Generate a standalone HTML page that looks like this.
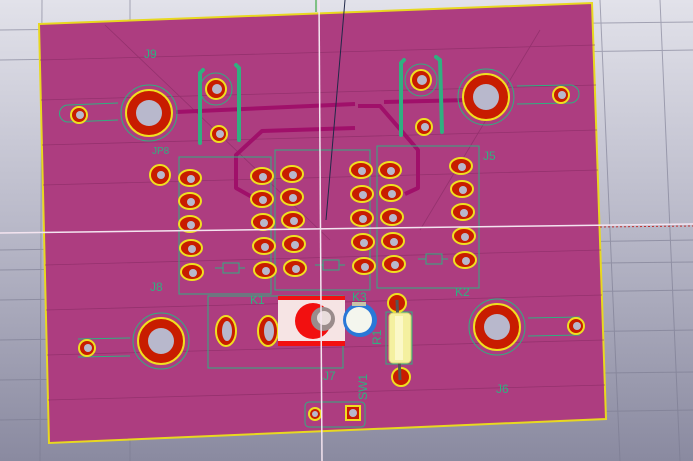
<!DOCTYPE html>
<html><head><style>
html,body{margin:0;padding:0;width:693px;height:461px;overflow:hidden;background:#c8c8d4}
</style></head><body>
<svg width="693" height="461" viewBox="0 0 693 461" xmlns="http://www.w3.org/2000/svg" font-family="Liberation Sans, sans-serif">
<defs>
<linearGradient id="bg" x1="0" y1="0" x2="0" y2="1">
<stop offset="0" stop-color="#e2e2ea"/><stop offset="0.5" stop-color="#b8b8c8"/><stop offset="1" stop-color="#8a8aa0"/>
</linearGradient>
</defs>
<rect width="693" height="461" fill="url(#bg)"/>
<g stroke="#7a7a90" stroke-width="1" opacity="0.6">
<line x1="0" y1="30" x2="693" y2="22"/><line x1="0" y1="60" x2="693" y2="50"/>
<line x1="0" y1="250" x2="693" y2="240"/><line x1="0" y1="270" x2="693" y2="262"/>
<line x1="0" y1="300" x2="693" y2="290"/><line x1="0" y1="340" x2="693" y2="330"/>
<line x1="0" y1="380" x2="693" y2="372"/><line x1="0" y1="420" x2="693" y2="410"/>
<line x1="42" y1="0" x2="40" y2="461"/><line x1="130" y1="0" x2="130" y2="461"/>
<line x1="600" y1="0" x2="620" y2="461"/><line x1="660" y1="0" x2="680" y2="461"/>
</g>
<polygon points="39,24 592,3 606,419 49,443" fill="#ad3d80" stroke="#e8d820" stroke-width="2"/>
<g stroke="#8a2c66" stroke-width="0.8" opacity="0.7">
<line x1="40" y1="60" x2="595" y2="45"/><line x1="41" y1="100" x2="596" y2="85"/>
<line x1="42" y1="145" x2="597" y2="130"/><line x1="43" y1="185" x2="598" y2="170"/>
<line x1="45" y1="265" x2="601" y2="250"/><line x1="46" y1="310" x2="602" y2="295"/>
<line x1="47" y1="355" x2="604" y2="340"/><line x1="48" y1="400" x2="605" y2="385"/>
<line x1="105" y1="25" x2="330" y2="240"/><line x1="540" y1="30" x2="420" y2="230"/>
</g>
<!-- traces -->
<g fill="none" stroke="#a0106a" stroke-width="4" stroke-linejoin="round">
<polyline points="176,112 355,104"/>
<polyline points="384,102 470,100"/>
<polyline points="355,128 262,131 236,155 236,188 252,197"/>
<polyline points="358,106 380,106 418,150 418,188 405,194"/>
</g>
<!-- silkscreen -->
<g fill="none" stroke="#30b080" stroke-width="1">
<rect x="179" y="157" width="92" height="137"/>
<rect x="275" y="150" width="95" height="140"/>
<rect x="377" y="146" width="102" height="142"/>
<rect x="208" y="296" width="135" height="72"/>
<rect x="305" y="402" width="60" height="25" rx="4"/>
<circle cx="149" cy="113" r="28"/><circle cx="486" cy="97" r="28"/>
<circle cx="161" cy="341" r="28"/><circle cx="497" cy="327" r="28"/>
<circle cx="216" cy="89" r="16"/><circle cx="421" cy="80" r="16"/>
<path d="M68,105 L118,103 M68,122 L118,120 M68,105 A8,8 0 0 0 68,122"/>
<path d="M517,86 L570,85 M517,104 L570,103 M570,85 A9,9 0 0 1 570,103"/>
<path d="M78,339 L130,338 M78,357 L130,356"/>
<path d="M528,318 L580,317 M528,336 L580,335"/>
<rect x="386" y="312" width="26" height="52"/>
<path d="M215,268 h8 v-5 h16 v10 h-16 v-5 M239,268 h6"/>
<path d="M315,265 h8 v-5 h16 v10 h-16 v-5 M339,265 h6"/>
<path d="M418,259 h8 v-5 h16 v10 h-16 v-5 M442,259 h6"/>
</g>
<g stroke="#30b080" stroke-width="4" stroke-linecap="round" fill="none">
<path d="M203,70 L200,73 L200,143"/><path d="M236,65 L239,68 L239,140"/>
<path d="M404,60 L401,63 L401,135"/><path d="M436,57 L440,60 L442,132"/>
</g>
<g fill="#30b080" font-size="12">
<text x="144" y="58">J9</text><text x="483" y="160">J5</text>
<text x="150" y="291">J8</text><text x="496" y="393">J6</text>
<text x="250" y="304">K1</text><text x="352" y="301">K3</text><text x="455" y="296">K2</text>
<text x="323" y="380">J7</text>
<text x="152" y="154" font-size="10">JP8</text>
<text transform="translate(381,345) rotate(-90)">R1</text>
<text transform="translate(367,400) rotate(-90)">SW1</text>
</g>
<!-- pads -->
<g stroke="#f0e020" stroke-width="2" fill="#c81c00">
<circle cx="149" cy="113" r="23"/><circle cx="486" cy="97" r="23"/>
<circle cx="161" cy="341" r="23"/><circle cx="497" cy="327" r="23"/>
<circle cx="79" cy="115" r="8"/><circle cx="561" cy="95" r="8"/>
<circle cx="87" cy="348" r="8"/><circle cx="576" cy="326" r="8"/>
<circle cx="216" cy="89" r="10"/><circle cx="219" cy="134" r="8"/>
<circle cx="421" cy="80" r="10"/><circle cx="424" cy="127" r="8"/>
<circle cx="160" cy="175" r="10"/>
<circle cx="315" cy="414" r="6"/><rect x="346" y="406" width="14" height="14"/>
<circle cx="397" cy="303" r="9"/><circle cx="401" cy="377" r="9"/>
<ellipse cx="226" cy="331" rx="10" ry="15"/><ellipse cx="268" cy="331" rx="10" ry="15"/>
</g>
<g stroke="#f0e020" stroke-width="2" fill="#c81c00" id="ov">
<ellipse cx="190" cy="178" rx="11" ry="8"/><ellipse cx="190" cy="201" rx="11" ry="8"/><ellipse cx="190" cy="224" rx="11" ry="8"/><ellipse cx="191" cy="248" rx="11" ry="8"/><ellipse cx="192" cy="272" rx="11" ry="8"/>
<ellipse cx="262" cy="176" rx="11" ry="8"/><ellipse cx="262" cy="199" rx="11" ry="8"/><ellipse cx="263" cy="222" rx="11" ry="8"/><ellipse cx="264" cy="246" rx="11" ry="8"/><ellipse cx="265" cy="270" rx="11" ry="8"/>
<ellipse cx="292" cy="174" rx="11" ry="8"/><ellipse cx="292" cy="197" rx="11" ry="8"/><ellipse cx="293" cy="220" rx="11" ry="8"/><ellipse cx="294" cy="244" rx="11" ry="8"/><ellipse cx="295" cy="268" rx="11" ry="8"/>
<ellipse cx="361" cy="170" rx="11" ry="8"/><ellipse cx="362" cy="194" rx="11" ry="8"/><ellipse cx="362" cy="218" rx="11" ry="8"/><ellipse cx="363" cy="242" rx="11" ry="8"/><ellipse cx="364" cy="266" rx="11" ry="8"/>
<ellipse cx="390" cy="170" rx="11" ry="8"/><ellipse cx="391" cy="193" rx="11" ry="8"/><ellipse cx="392" cy="217" rx="11" ry="8"/><ellipse cx="393" cy="241" rx="11" ry="8"/><ellipse cx="394" cy="264" rx="11" ry="8"/>
<ellipse cx="461" cy="166" rx="11" ry="8"/><ellipse cx="462" cy="189" rx="11" ry="8"/><ellipse cx="463" cy="212" rx="11" ry="8"/><ellipse cx="464" cy="236" rx="11" ry="8"/><ellipse cx="465" cy="260" rx="11" ry="8"/>
</g>
<g fill="#b8b8cc">
<circle cx="149" cy="113" r="13"/><circle cx="486" cy="97" r="13"/>
<circle cx="161" cy="341" r="13"/><circle cx="497" cy="327" r="13"/>
<circle cx="80" cy="115" r="4"/><circle cx="562" cy="95" r="4"/><circle cx="88" cy="348" r="4"/><circle cx="577" cy="326" r="4"/>
<circle cx="217" cy="89" r="5"/><circle cx="220" cy="134" r="4"/><circle cx="422" cy="80" r="5"/><circle cx="425" cy="127" r="4"/>
<circle cx="161" cy="175" r="4"/><circle cx="315" cy="414" r="3"/><circle cx="353" cy="413" r="4"/>
<ellipse cx="227" cy="331" rx="5" ry="10"/><ellipse cx="269" cy="331" rx="5" ry="10"/>
<g>
<circle cx="191" cy="179" r="4"/><circle cx="191" cy="202" r="4"/><circle cx="191" cy="225" r="4"/><circle cx="192" cy="249" r="4"/><circle cx="193" cy="273" r="4"/>
<circle cx="263" cy="177" r="4"/><circle cx="263" cy="200" r="4"/><circle cx="264" cy="223" r="4"/><circle cx="265" cy="247" r="4"/><circle cx="266" cy="271" r="4"/>
<circle cx="293" cy="175" r="4"/><circle cx="293" cy="198" r="4"/><circle cx="294" cy="221" r="4"/><circle cx="295" cy="245" r="4"/><circle cx="296" cy="269" r="4"/>
<circle cx="362" cy="171" r="4"/><circle cx="363" cy="195" r="4"/><circle cx="363" cy="219" r="4"/><circle cx="364" cy="243" r="4"/><circle cx="365" cy="267" r="4"/>
<circle cx="391" cy="171" r="4"/><circle cx="392" cy="194" r="4"/><circle cx="393" cy="218" r="4"/><circle cx="394" cy="242" r="4"/><circle cx="395" cy="265" r="4"/>
<circle cx="462" cy="167" r="4"/><circle cx="463" cy="190" r="4"/><circle cx="464" cy="213" r="4"/><circle cx="465" cy="237" r="4"/><circle cx="466" cy="261" r="4"/>
</g>
</g>
<!-- J7 switch -->
<rect x="278" y="296" width="67" height="50" fill="#f6e4e4"/>
<rect x="278" y="296" width="67" height="4" fill="#f21010"/>
<rect x="278" y="341" width="67" height="5" fill="#f21010"/>
<circle cx="313" cy="321" r="18" fill="#f21010"/>
<circle cx="323" cy="319" r="12" fill="#9a8c8c"/><circle cx="324" cy="318" r="7" fill="#e8dcdc"/>
<!-- K3 cap -->
<circle cx="360" cy="320" r="17" fill="#2a78d8"/><circle cx="359" cy="320" r="13" fill="#f4f6ee"/>
<rect x="352" y="302" width="14" height="4" fill="#c8c4a8"/>
<!-- R1 -->
<line x1="397" y1="300" x2="400" y2="380" stroke="#555" stroke-width="3"/>
<rect x="389" y="313" width="22" height="50" rx="4" fill="#f4f0a0" stroke="#d8d070"/>
<rect x="395" y="316" width="8" height="44" fill="#fbf8c8"/>
<!-- crosshair -->
<line x1="319" y1="0" x2="322" y2="461" stroke="#f4e4f0" stroke-width="1.5"/>
<line x1="0" y1="233" x2="693" y2="224" stroke="#f4e4f0" stroke-width="1.5"/>
<line x1="345" y1="0" x2="326" y2="220" stroke="#202848" stroke-width="1"/>
<line x1="316" y1="0" x2="316" y2="12" stroke="#20a020" stroke-width="1"/>
<line x1="600" y1="227" x2="693" y2="226" stroke="#c03030" stroke-width="1" stroke-dasharray="2,2"/>
</svg>
</body></html>
